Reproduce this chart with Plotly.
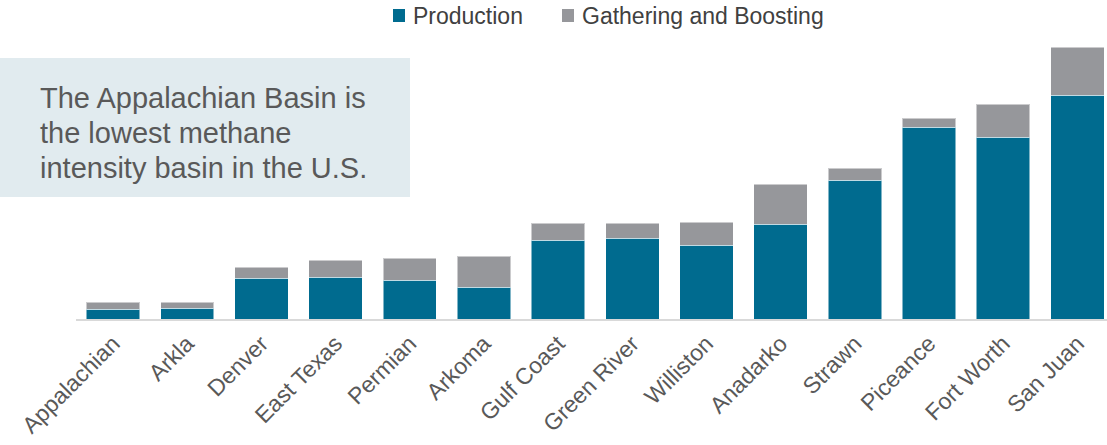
import plotly.graph_objects as go

basins = ["Appalachian", "Arkla", "Denver", "East Texas", "Permian", "Arkoma", "Gulf Coast",
          "Green River", "Williston", "Anadarko", "Strawn", "Piceance", "Fort Worth", "San Juan"]
production = [10, 11, 41, 42, 39, 32, 79, 81, 74, 95, 139, 192, 182, 224]
gathering = [7, 6, 11, 17, 22, 31, 17, 15, 23, 40, 12, 9, 33, 48]

note_lines = ["The Appalachian Basin is", "the lowest methane", "intensity basin in the U.S."]

AZUL = "#006B8F"
CINZA = "#96979B"
FONTE = "Liberation Sans, Arial, sans-serif"

L, T, PW, PH = 76, 39, 1031, 280


def px(x):
    return (x - L) / PW


def py(y):
    return (T + PH - y) / PH


fig = go.Figure()
fig.add_trace(go.Bar(x=basins, y=production, name="Production",
                     marker=dict(color=AZUL, line=dict(color="rgba(255,255,255,0.5)", width=1))))
fig.add_trace(go.Bar(x=basins, y=gathering, name="Gathering and Boosting",
                     marker=dict(color=CINZA, line=dict(color="rgba(255,255,255,0.5)", width=1))))

# legenda desenhada à mão, para ficar colada ao texto como no original
for nome, cor, xq in [("Production", AZUL, 393), ("Gathering and Boosting", CINZA, 562)]:
    fig.add_shape(type="rect", xref="paper", yref="paper",
                  x0=px(xq), x1=px(xq + 12), y0=py(22), y1=py(9),
                  fillcolor=cor, line_width=0)
    fig.add_annotation(text=nome, xref="paper", yref="paper", x=px(xq + 18), y=py(16),
                       xanchor="left", yanchor="middle", showarrow=False,
                       font=dict(size=23, color="#404040", family=FONTE))

# caixa de destaque
fig.add_shape(type="rect", xref="paper", yref="paper",
              x0=px(0), x1=px(410), y0=py(197), y1=py(58),
              fillcolor="#E1EBEF", line_width=0, layer="below")
for i, linha in enumerate(note_lines):
    fig.add_annotation(text=linha, xref="paper", yref="paper", x=px(38), y=py(98 + 35 * i),
                       xanchor="left", yanchor="middle", showarrow=False,
                       font=dict(size=29, color="#595959", family=FONTE))

fig.update_layout(
    width=1107, height=445,
    margin=dict(l=L, r=1107 - L - PW, t=T, b=445 - T - PH, autoexpand=False),
    barmode="stack", bargap=0.28,
    showlegend=False,
    plot_bgcolor="white", paper_bgcolor="white",
    font=dict(family=FONTE, color="#595959"),
    xaxis=dict(range=[-0.5, 13.4], tickangle=-45, showline=True, linecolor="#D9D9D9", linewidth=2,
               ticks="", automargin=False, tickfont=dict(size=23, color="#595959")),
    yaxis=dict(range=[0, 280], visible=False),
)

# tira a margem de 8px do body para o gráfico encostar no canto da janela
fig.write_html("out.html", config={"displayModeBar": False},
               post_script="document.body.style.margin = '0';")
